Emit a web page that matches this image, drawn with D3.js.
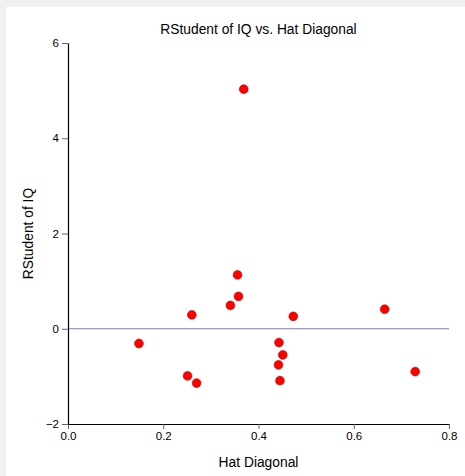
<!DOCTYPE html>
<html><head><meta charset="utf-8">
<script src="https://cdn.jsdelivr.net/npm/d3@7"></script>
<style>
html,body{margin:0;padding:0;background:#f0f0f0;}
svg{display:block;}
</style></head>
<body>
<svg id="chart" width="465" height="476"></svg>
<script>
const hatDiagonal = [0.149, 0.251, 0.270, 0.443, 0.451, 0.442, 0.445, 0.729, 0.260, 0.341, 0.358, 0.356, 0.473, 0.665, 0.369];
const rstudent    = [-0.31, -0.99, -1.14, -0.29, -0.55, -0.76, -1.09, -0.90, 0.29, 0.49, 0.68, 1.13, 0.26, 0.41, 5.03];
const xTicks = [0.0, 0.2, 0.4, 0.6, 0.8];
const yTicks = [-2, 0, 2, 4, 6];
const title = "RStudent of IQ vs. Hat Diagonal";
const xLabel = "Hat Diagonal";
const yLabel = "RStudent of IQ";

const svg = d3.select("#chart");
svg.append("rect").attr("x",6).attr("y",7).attr("width",459).attr("height",469).attr("fill","#fff");

const x = d3.scaleLinear().domain([0,0.8]).range([68,449]);
const y = d3.scaleLinear().domain([-2,6]).range([424,43]);
const font = "'Liberation Sans', Arial, sans-serif";

// zero reference line
svg.append("line").attr("x1",x(0)).attr("x2",x(0.8)).attr("y1",y(0)).attr("y2",y(0))
  .attr("stroke","#7b7bc6").attr("stroke-width",1.2);

const xAxis = svg.append("g").attr("transform",`translate(0,${y(-2)})`)
  .call(d3.axisBottom(x).tickValues(xTicks).tickFormat(d3.format(".1f")).tickSize(5).tickSizeOuter(0));
const yAxis = svg.append("g").attr("transform",`translate(${x(0)},0)`)
  .call(d3.axisLeft(y).tickValues(yTicks).tickFormat(d3.format("d")).tickSize(6).tickSizeOuter(0));
[xAxis,yAxis].forEach(a=>{
  a.select(".domain").attr("stroke","#000").attr("stroke-width",1.2);
  a.selectAll(".tick line").attr("stroke","#666");
  a.selectAll(".tick text").attr("font-family",font).attr("font-size",11.5).attr("fill","#000");
});
xAxis.selectAll(".tick text").attr("y",6).attr("dy","0.85em");
yAxis.selectAll(".tick text").attr("x",-9);

svg.selectAll("circle.pt").data(hatDiagonal.map((h,i)=>({h,r:rstudent[i]})))
  .enter().append("circle").attr("class","pt")
  .attr("cx",d=>x(d.h)).attr("cy",d=>y(d.r)).attr("r",4.4)
  .attr("fill","#ff0000").attr("stroke","#b00000").attr("stroke-width",0.6);

svg.append("text").attr("x",(x(0)+x(0.8))/2).attr("y",33.5).attr("text-anchor","middle")
  .attr("font-family",font).attr("font-size",13.8).attr("fill","#000").text(title);
svg.append("text").attr("x",(x(0)+x(0.8))/2).attr("y",466.5).attr("text-anchor","middle")
  .attr("font-family",font).attr("font-size",13.8).attr("fill","#000").text(xLabel);
svg.append("text").attr("transform",`translate(33,${(y(-2)+y(6))/2}) rotate(-90)`).attr("text-anchor","middle")
  .attr("font-family",font).attr("font-size",13.8).attr("fill","#000").text(yLabel);
</script>
</body></html>
